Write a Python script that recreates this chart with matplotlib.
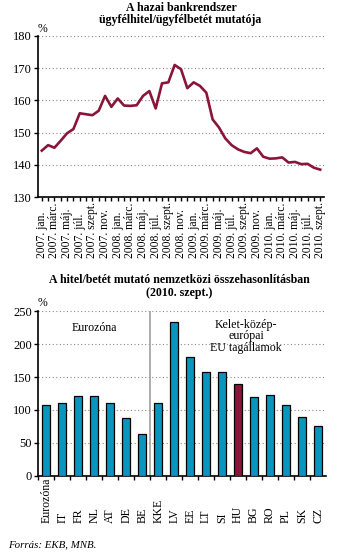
import numpy as np
import matplotlib.pyplot as plt
import matplotlib.transforms as mtransforms

plt.rcParams['font.family'] = ['Liberation Serif', 'DejaVu Serif']

# ügyfélhitel/ügyfélbetét mutató, havi adatok 2007 jan - 2010 szept (%)
honapok = ['jan.', 'febr.', 'márc.', 'ápr.', 'máj.', 'jún.',
           'júl.', 'aug.', 'szept.', 'okt.', 'nov.', 'dec.']
evek = [2007, 2008, 2009, 2010]
mutato = [144.4, 146.1, 145.3, 147.5, 149.8, 151.1, 156.0, 155.7, 155.4, 156.8,
          161.4, 158.0, 160.6, 158.4, 158.3, 158.5, 161.4, 162.9, 157.5, 165.3,
          165.6, 171.0, 169.7, 163.8, 165.6, 164.5, 162.4, 154.1, 151.6, 148.2,
          146.1, 144.8, 144.0, 143.6, 145.1, 142.5, 141.9, 142.0, 142.3, 140.7,
          140.9, 140.2, 140.3, 139.1, 138.5]
datum_cimkek = [f'{ev}. {h}' for ev in evek for h in honapok][:len(mutato)]

# nemzetközi összehasonlítás, 2010. szept. (%)
orszagok = ['Eurozóna', 'IT', 'FR', 'NL', 'AT', 'DE', 'BE', 'KKE', 'LV', 'EE',
            'LT', 'SI', 'HU', 'BG', 'RO', 'PL', 'SK', 'CZ']
hitel_betet = [107, 110, 121, 121, 110, 87, 63, 110, 233, 181,
               157, 158, 139, 119, 122, 107, 89, 75]

kek = '#0896BE'
bordo = '#8A1538'
racs = dict(color='#8a8a8a', linestyle=(0, (1, 2.2)), linewidth=0.8)

fig = plt.figure(figsize=(3.37, 5.57), dpi=100)
W, H = 337, 557


def px_axes(x0, y0, x1, y1):
    return fig.add_axes([x0 / W, 1 - y1 / H, (x1 - x0) / W, (y1 - y0) / H])


def alap_stilus(ax):
    for s in ['top', 'right']:
        ax.spines[s].set_visible(False)
    for s in ['left', 'bottom']:
        ax.spines[s].set_linewidth(1.2)
    ax.tick_params(axis='y', direction='out', length=3, width=1, labelsize=9, pad=1.5)
    ax.tick_params(axis='x', which='both', direction='out', length=3, width=1)
    ax.set_axisbelow(True)


# --- felső ábra: vonal ---
ax1 = px_axes(38.3, 36, 324, 197)
alap_stilus(ax1)
x = np.arange(len(mutato))
ax1.plot(x, mutato, color=bordo, lw=1.9, solid_joinstyle='round')
ax1.set_ylim(130, 180)
ax1.set_yticks(range(130, 181, 10))
ax1.set_xlim(-0.55, 44.6)
for y in range(140, 181, 10):
    ax1.axhline(y, **racs, zorder=0)
ax1.set_xticks(x[::2])
ax1.set_xticks(x, minor=True)
ax1.set_xticklabels([])
trans1 = mtransforms.blended_transform_factory(ax1.transData, fig.transFigure)
for i in x[::2]:
    ax1.text(i, 1 - 257.5 / H, datum_cimkek[i], transform=trans1, rotation=90,
             ha='center', va='bottom', fontsize=8.4)
fig.text(42 / W, 1 - 29 / H, '%', ha='center', va='center', fontsize=8.5)
fig.text(181 / W, 1 - 8 / H, 'A hazai bankrendszer', ha='center', va='center',
         fontsize=8.6, fontweight='bold')
fig.text(180 / W, 1 - 20 / H, 'ügyfélhitel/ügyfélbetét mutatója', ha='center',
         va='center', fontsize=8.6, fontweight='bold')

# --- alsó ábra: oszlopok ---
ax2 = px_axes(38.3, 311.3, 326, 475.7)
alap_stilus(ax2)
pos = np.arange(len(orszagok))
szinek = [bordo if o == 'HU' else kek for o in orszagok]
ax2.bar(pos, hitel_betet, width=0.52, color=szinek, edgecolor='black', linewidth=0.9, zorder=3)
ax2.set_ylim(0, 250)
ax2.set_yticks(range(0, 251, 50))
ax2.set_xlim(-0.5, len(orszagok) - 0.5)
for y in range(50, 251, 50):
    ax2.axhline(y, **racs, zorder=0)
ax2.axvline(6.5, color='#a0a0a0', lw=1.2, zorder=1)
ax2.set_xticks(pos - 0.5)
ax2.set_xticklabels([])
trans2 = mtransforms.blended_transform_factory(ax2.transData, fig.transFigure)
for p, o in zip(pos, orszagok):
    ax2.text(p, 1 - 523.3 / H, o, transform=trans2, rotation=90,
             ha='center', va='bottom', fontsize=8.6)
ax2.text(3.0, 225, 'Eurozóna', ha='center', va='center', fontsize=8.6)
ax2.text(12.5, 212, 'Kelet-közép-\neurópai\nEU tagállamok', ha='center',
         va='center', fontsize=8.6, linespacing=0.95)
fig.text(42 / W, 1 - 303 / H, '%', ha='center', va='center', fontsize=8.5)
fig.text(179 / W, 1 - 280 / H, 'A hitel/betét mutató nemzetközi összehasonlításban',
         ha='center', va='center', fontsize=8.6, fontweight='bold')
fig.text(179 / W, 1 - 293 / H, '(2010. szept.)', ha='center', va='center',
         fontsize=8.6, fontweight='bold')

fig.text(8 / W, 1 - 545 / H, 'Forrás: EKB, MNB.', ha='left', va='center',
         fontsize=7.8, style='italic')

fig.savefig('out.png', dpi=100)
